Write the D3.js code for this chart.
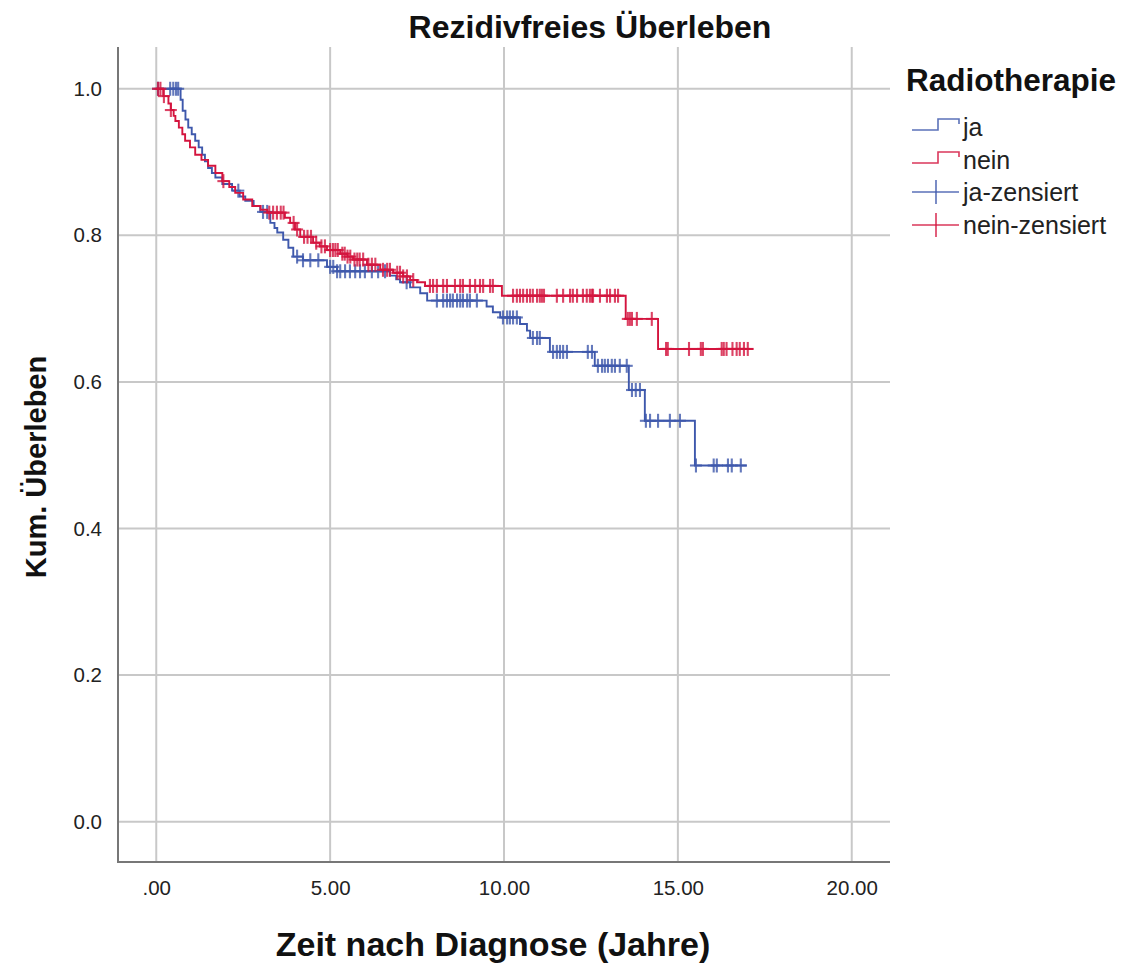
<!DOCTYPE html>
<html>
<head>
<meta charset="utf-8">
<script src="https://cdn.jsdelivr.net/npm/d3@7"></script>
<style>
  body { margin: 0; background: #fff; }
  svg { display: block; font-family: "Liberation Sans", Arial, sans-serif; }
</style>
</head>
<body>
<svg id="chart" width="1126" height="965"></svg>
<script>
// Kaplan-Meier step data: event times (years) and survival after each event
const groups = ["ja", "nein"];
const jaEventTimes = [0.70, 0.76, 0.84, 0.92, 1.02, 1.12, 1.22, 1.32, 1.40, 1.49, 1.60, 1.70, 1.90, 2.18, 2.40, 2.56, 2.80, 2.99, 3.28, 3.40, 3.48, 3.65, 3.80, 3.94, 4.22, 4.91, 5.20, 6.72, 6.90, 7.01, 7.30, 7.59, 7.79, 9.50, 9.68, 9.89, 10.46, 10.66, 10.75, 11.32, 12.61, 13.59, 14.05, 15.49];
const jaSurvival   = [0.985, 0.970, 0.958, 0.947, 0.938, 0.929, 0.920, 0.910, 0.901, 0.892, 0.885, 0.879, 0.870, 0.861, 0.853, 0.847, 0.840, 0.832, 0.817, 0.810, 0.804, 0.794, 0.783, 0.771, 0.766, 0.757, 0.751, 0.745, 0.740, 0.736, 0.729, 0.721, 0.711, 0.703, 0.695, 0.688, 0.679, 0.670, 0.660, 0.641, 0.622, 0.589, 0.547, 0.486];
const jaEnd = 16.98;
const jaCensored = [0.05, 0.40, 0.49, 0.57, 0.63, 2.36, 3.07, 3.19, 4.05, 4.22, 4.43, 4.66, 5.00, 5.09, 5.20, 5.29, 5.43, 5.57, 5.72, 5.86, 6.00, 6.20, 6.38, 6.58, 7.20, 8.07, 8.25, 8.36, 8.45, 8.53, 8.65, 8.74, 8.82, 8.94, 9.02, 9.22, 9.97, 10.09, 10.17, 10.26, 10.37, 10.83, 10.95, 11.03, 11.41, 11.52, 11.61, 11.70, 11.81, 12.41, 12.53, 12.70, 12.82, 12.90, 12.99, 13.10, 13.19, 13.33, 13.53, 13.68, 13.79, 13.91, 14.08, 14.20, 14.43, 14.77, 15.06, 15.52, 16.03, 16.12, 16.44, 16.55, 16.81];

const neinEventTimes = [0.20, 0.35, 0.42, 0.50, 0.55, 0.65, 0.75, 0.83, 0.97, 1.12, 1.30, 1.49, 1.70, 1.90, 2.10, 2.27, 2.50, 2.76, 3.00, 3.19, 3.70, 3.85, 3.99, 4.14, 4.51, 4.70, 4.91, 5.29, 5.50, 5.66, 6.06, 6.44, 6.81, 7.10, 7.30, 7.50, 7.73, 9.94, 13.50, 14.43];
const neinSurvival   = [0.990, 0.980, 0.971, 0.963, 0.956, 0.947, 0.938, 0.929, 0.920, 0.910, 0.903, 0.895, 0.885, 0.874, 0.866, 0.858, 0.849, 0.840, 0.835, 0.831, 0.824, 0.817, 0.808, 0.798, 0.790, 0.785, 0.780, 0.775, 0.771, 0.767, 0.760, 0.753, 0.749, 0.744, 0.739, 0.736, 0.731, 0.7176, 0.686, 0.645];
const neinEnd = 17.16;
const neinCensored = [0.05, 0.12, 0.22, 0.42, 1.93, 3.25, 3.36, 3.47, 3.58, 3.66, 3.95, 4.05, 4.25, 4.35, 4.45, 4.60, 4.75, 4.85, 5.00, 5.08, 5.15, 5.22, 5.35, 5.42, 5.50, 5.58, 5.70, 5.78, 5.85, 5.95, 6.10, 6.20, 6.30, 6.52, 6.64, 6.72, 6.93, 7.01, 7.10, 7.21, 7.39, 7.87, 7.96, 8.07, 8.25, 8.36, 8.59, 8.74, 8.82, 9.02, 9.17, 9.31, 9.40, 9.60, 9.68, 10.26, 10.37, 10.46, 10.55, 10.66, 10.75, 10.83, 10.95, 11.03, 11.09, 11.15, 11.52, 11.70, 11.90, 11.98, 12.10, 12.27, 12.38, 12.47, 12.53, 12.56, 12.76, 12.96, 13.05, 13.19, 13.28, 13.56, 13.62, 13.68, 13.82, 14.25, 14.66, 14.71, 15.32, 15.66, 15.72, 16.26, 16.32, 16.40, 16.57, 16.69, 16.78, 16.90, 17.01];

const xTicks = [0, 5, 10, 15, 20];
const yTicks = [0, 0.2, 0.4, 0.6, 0.8, 1.0];
const legendLabels = ["ja", "nein", "ja-zensiert", "nein-zensiert"];
const colors = { ja: "#3e58ac", nein: "#d4143e" };

const series = [
  { key: "ja", times: jaEventTimes, surv: jaSurvival, end: jaEnd, censored: jaCensored },
  { key: "nein", times: neinEventTimes, surv: neinSurvival, end: neinEnd, censored: neinCensored }
];

const svg = d3.select("#chart");
const plot = { left: 118, right: 890, top: 47, bottom: 862 };

const x = d3.scaleLinear().domain([-1.1, 21.1]).range([plot.left, plot.right]);
const y = d3.scaleLinear().domain([-0.055, 1.057]).range([plot.bottom, plot.top]);

// grid lines
const grid = svg.append("g");
grid.selectAll("line.v").data(xTicks).join("line")
  .attr("x1", d => x(d)).attr("x2", d => x(d))
  .attr("y1", plot.top).attr("y2", plot.bottom)
  .attr("stroke", "#c8c8c8").attr("stroke-width", 2);
grid.selectAll("line.h").data(yTicks).join("line")
  .attr("x1", plot.left).attr("x2", plot.right)
  .attr("y1", d => y(d)).attr("y2", d => y(d))
  .attr("stroke", "#c8c8c8").attr("stroke-width", 2);

// axes (labels only, no tick marks)
const tickFont = 20.5;
const xAxis = d3.axisBottom(x).tickValues(xTicks).tickSize(0).tickPadding(18)
  .tickFormat(d => d === 0 ? ".00" : d3.format(".2f")(d));
svg.append("g").attr("transform", `translate(0,${plot.bottom})`).call(xAxis)
  .call(g => g.select(".domain").remove())
  .call(g => g.selectAll("text").attr("font-size", tickFont).attr("fill", "#222").attr("font-family", "Liberation Sans, Arial, sans-serif"));
const yAxis = d3.axisLeft(y).tickValues(yTicks).tickSize(0).tickPadding(16)
  .tickFormat(d3.format(".1f"));
svg.append("g").attr("transform", `translate(${plot.left},0)`).call(yAxis)
  .call(g => g.select(".domain").remove())
  .call(g => g.selectAll("text").attr("font-size", tickFont).attr("fill", "#222").attr("font-family", "Liberation Sans, Arial, sans-serif"));

svg.append("line").attr("x1", plot.left).attr("x2", plot.left)
  .attr("y1", plot.top).attr("y2", plot.bottom + 1)
  .attr("stroke", "#777").attr("stroke-width", 2);
svg.append("line").attr("x1", plot.left - 1).attr("x2", plot.right)
  .attr("y1", plot.bottom).attr("y2", plot.bottom)
  .attr("stroke", "#777").attr("stroke-width", 2);

// step curves
function stepPoints(s) {
  const pts = [[0, 1]];
  let prev = 1;
  s.times.forEach((t, i) => {
    pts.push([t, prev]);
    pts.push([t, s.surv[i]]);
    prev = s.surv[i];
  });
  pts.push([s.end, prev]);
  return pts;
}
function survivalAt(s, t) {
  let v = 1;
  s.times.forEach((et, i) => { if (et <= t) v = s.surv[i]; });
  return v;
}
const line = d3.line().x(d => x(d[0])).y(d => y(d[1]));

series.forEach(s => {
  const g = svg.append("g");
  g.append("path").datum(stepPoints(s))
    .attr("d", line).attr("fill", "none")
    .attr("stroke", colors[s.key]).attr("stroke-width", 1.9);
  const marks = g.selectAll("g.c").data(s.censored).join("g")
    .attr("transform", d => `translate(${x(d)},${y(survivalAt(s, d))})`)
    .attr("stroke", colors[s.key]).attr("stroke-width", 2.1).attr("opacity", 0.8);
  marks.append("line").attr("x1", 0).attr("x2", 0).attr("y1", -7).attr("y2", 7);
  marks.append("line").attr("x1", -6).attr("x2", 6).attr("y1", 0).attr("y2", 0);
});

// titles
svg.append("text").attr("x", 590).attr("y", 38).attr("text-anchor", "middle")
  .attr("font-size", 32).attr("font-weight", "bold").attr("fill", "#111")
  .text("Rezidivfreies Überleben");
svg.append("text").attr("x", 493).attr("y", 956).attr("text-anchor", "middle")
  .attr("font-size", 34).attr("font-weight", "bold").attr("fill", "#111")
  .text("Zeit nach Diagnose (Jahre)");
svg.append("text").attr("transform", `translate(46,${467}) rotate(-90)`).attr("text-anchor", "middle")
  .attr("font-size", 29).attr("font-weight", "bold").attr("fill", "#111")
  .text("Kum. Überleben");

// legend
const lg = svg.append("g");
lg.append("text").attr("x", 906).attr("y", 91).attr("font-size", 31.5).attr("font-weight", "bold")
  .attr("fill", "#111").text("Radiotherapie");
const legendY = [127, 160, 192, 225];
legendLabels.forEach((lab, i) => {
  const key = i % 2 === 0 ? "ja" : "nein";
  const cy = legendY[i];
  if (i < 2) {
    lg.append("path")
      .attr("d", `M912,${cy + 3}H938V${cy - 8}H959V${cy - 3}`)
      .attr("fill", "none").attr("stroke", colors[key]).attr("stroke-width", 1.6).attr("opacity", 0.85);
  } else {
    lg.append("line").attr("x1", 912).attr("x2", 959).attr("y1", cy).attr("y2", cy)
      .attr("stroke", colors[key]).attr("stroke-width", 1.6).attr("opacity", 0.85);
    lg.append("line").attr("x1", 936).attr("x2", 936).attr("y1", cy - 12).attr("y2", cy + 12)
      .attr("stroke", colors[key]).attr("stroke-width", 1.6).attr("opacity", 0.85);
  }
  lg.append("text").attr("x", 963).attr("y", cy + 9).attr("font-size", 25).attr("fill", "#222").text(lab);
});
</script>
</body>
</html>
